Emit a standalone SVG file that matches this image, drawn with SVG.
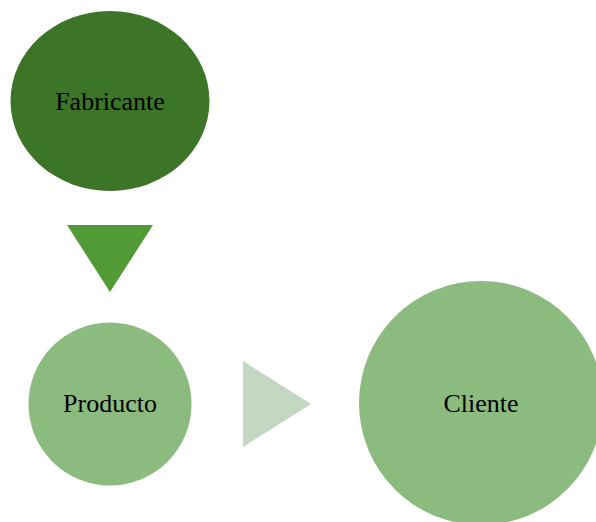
<svg xmlns="http://www.w3.org/2000/svg" width="596" height="522" viewBox="0 0 596 522">
<style>
.lbl{font-family:"Liberation Serif","Times New Roman",serif;font-size:26px;fill:#000;text-anchor:middle}
.mid{fill:#8bbb7e}
</style>
<rect width="596" height="522" fill="#ffffff"/>
<g id="connectors">
<polygon points="67,225 153,225 110,292" fill="#519a35"/>
<polygon points="243,361 243,447 311,404" fill="#c3d7c2"/>
</g>
<g id="fabricante">
<ellipse cx="110" cy="101" rx="99.5" ry="90" fill="#3c7428"/>
<text class="lbl" x="110" y="110">Fabricante</text>
</g>
<g id="producto">
<circle class="mid" cx="110" cy="404" r="81.5"/>
<text class="lbl" x="110" y="412">Producto</text>
</g>
<g id="cliente">
<circle class="mid" cx="481" cy="403" r="122"/>
<text class="lbl" x="481" y="412">Cliente</text>
</g>
</svg>
